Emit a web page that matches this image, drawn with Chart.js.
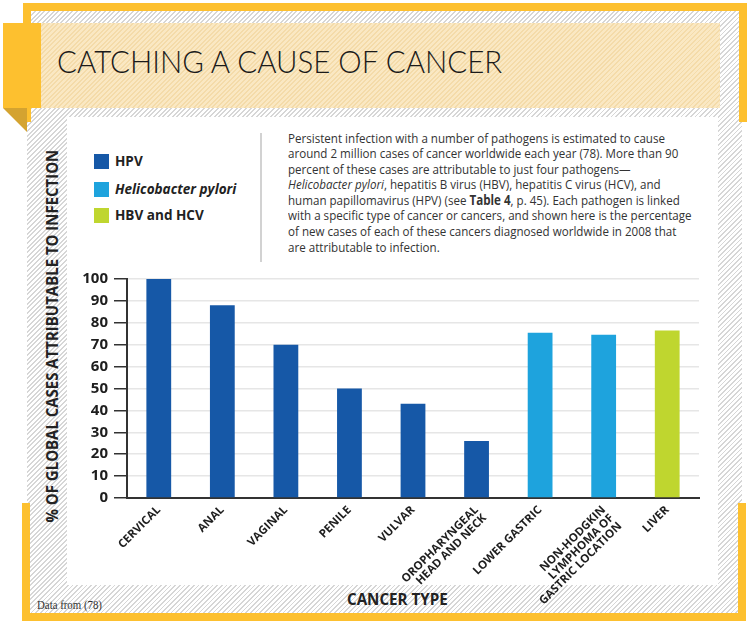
<!DOCTYPE html>
<html><head><meta charset="utf-8">
<script src="https://cdn.jsdelivr.net/npm/chart.js@4.4.1/dist/chart.umd.min.js"></script>
<style>
html,body{margin:0;padding:0;width:750px;height:626px;overflow:hidden;background:#fff;font-family:'Open Sans',sans-serif;color:#222;}
.abs{position:absolute;}
#hatch{left:27px;top:11px;width:715px;height:603px;background:repeating-linear-gradient(135deg,#fff 0 2.1px,#d6d6d6 2.1px 3.3px);}
.yel{background:#fdc02f;}
#ribbon{left:41px;top:23px;width:679px;height:85px;background:repeating-linear-gradient(135deg,#fae8c3 0 2.1px,#f4dba9 2.1px 3.3px);}
#tab{left:3px;top:23px;width:38px;height:85px;}
#fold{left:3px;top:108px;width:24px;height:24px;background:#d4a330;clip-path:polygon(0 0,100% 0,100% 100%);}
#panel{left:67px;top:117px;width:651px;height:468px;background:#fff;}
#title{left:57px;top:44.6px;font-family:'Lato',sans-serif;font-weight:300;font-size:32px;line-height:32px;white-space:nowrap;color:#1a1a1a;transform-origin:0 0;}
#para{left:288px;top:130.5px;font-size:13.5px;line-height:15.6px;color:#333;white-space:nowrap;transform-origin:0 0;}
#divider{left:260px;top:133px;width:2px;height:129px;background:#d2d2d2;}
#legend{left:94px;top:154px;}
.li{position:absolute;left:0;height:15px;white-space:nowrap;}
.sw{position:absolute;left:0;top:0;width:15px;height:15px;}
.lt{position:absolute;left:21px;top:-3px;font-weight:700;font-size:14px;line-height:20px;transform-origin:0 50%;}
#ytitle{left:-134.5px;top:340px;width:371px;height:20px;line-height:20px;text-align:center;transform:rotate(-90deg);white-space:nowrap;font-weight:700;font-size:16px;}
#ytitle span,#xtitle span{display:inline-block;}
#xtitle{left:347px;top:589px;font-weight:700;font-size:16.5px;line-height:20px;white-space:nowrap;transform-origin:0 0;}
#source{left:37px;top:598px;font-family:'Liberation Serif',serif;font-size:12px;line-height:14px;color:#333;white-space:nowrap;transform-origin:0 0;}
canvas{position:absolute;left:0;top:0;}
</style></head>
<body>
<div id="hatch" class="abs"></div>
<div class="abs yel" style="left:23px;top:3px;width:724px;height:8px"></div>
<div class="abs yel" style="left:23px;top:3px;width:8px;height:119px"></div>
<div class="abs yel" style="left:739px;top:3px;width:8px;height:119px"></div>
<div class="abs yel" style="left:22px;top:613px;width:724px;height:8px"></div>
<div class="abs yel" style="left:22px;top:503px;width:8px;height:118px"></div>
<div class="abs yel" style="left:738px;top:503px;width:8px;height:118px"></div>
<div id="ribbon" class="abs"></div>
<div id="tab" class="abs yel"></div>
<div id="fold" class="abs"></div>
<div id="title" class="abs">CATCHING A CAUSE OF CANCER</div>
<div id="panel" class="abs"></div>
<div id="divider" class="abs"></div>
<div id="legend" class="abs"></div>
<div id="para" class="abs"></div>
<div id="ytitle" class="abs"><span>% OF GLOBAL CASES ATTRIBUTABLE TO INFECTION</span></div>
<div id="xtitle" class="abs">CANCER TYPE</div>
<div id="source" class="abs">Data from (78)</div>
<canvas id="c" width="750" height="626"></canvas>
<script>
// ---- data ----
const categories = ['CERVICAL','ANAL','VAGINAL','PENILE','VULVAR','OROPHARYNGEAL\nHEAD AND NECK','LOWER GASTRIC','NON-HODGKIN\nLYMPHOMA OF\nGASTRIC LOCATION','LIVER'];
const seriesNames = ['HPV','Helicobacter pylori','HBV and HCV'];
const seriesColors = ['#1658a7','#1ea3dd','#bfd62f'];
const hpvValues = [100,88,70,50,43,26,null,null,null];
const hPyloriValues = [null,null,null,null,null,null,75.5,74.5,null];
const hbvHcvValues = [null,null,null,null,null,null,null,null,76.5];
const yTicks = [0,10,20,30,40,50,60,70,80,90,100];
const paragraphLines = [
 'Persistent infection with a number of pathogens is estimated to cause',
 'around 2 million cases of cancer worldwide each year (78). More than 90',
 'percent of these cases are attributable to just four pathogens\u2014',
 '<i>Helicobacter pylori</i>, hepatitis B virus (HBV), hepatitis C virus (HCV), and',
 'human papillomavirus (HPV) (see <b>Table 4</b>, p. 45). Each pathogen is linked',
 'with a specific type of cancer or cancers, and shown here is the percentage',
 'of new cases of each of these cancers diagnosed worldwide in 2008 that',
 'are attributable to infection.'
];

// ---- text blocks ----
const para = document.getElementById('para');
para.innerHTML = paragraphLines.map((l,i)=>'<div'+(i===0?' id="pl0" style="display:inline-block"':'')+'>'+l+'</div>').join('');
const legend = document.getElementById('legend');
seriesNames.forEach((n,i)=>{
  const d=document.createElement('div'); d.className='li'; d.style.top=[0,28,54][i]+'px';
  d.innerHTML='<div class="sw" style="background:'+seriesColors[i]+'"></div><div class="lt"'+(i===1?' style="font-style:italic"':'')+'>'+n+'</div>';
  legend.appendChild(d);
});
function fit(el, target){ const w=el.offsetWidth; el.style.transform='scaleX('+(target/w)+')'; return target/w; }
fit(document.getElementById('title'),445);
const s=document.getElementById('pl0').offsetWidth; para.style.transform='scaleX('+(377/s)+')';
const lts=document.querySelectorAll('.lt'); const k=121/lts[1].offsetWidth; lts.forEach(e=>e.style.transform='scaleX('+k+')');
fit(document.querySelector('#ytitle span'),373);
fit(document.getElementById('xtitle'),101);
fit(document.getElementById('source'),65);

// ---- chart ----
const mk=(vals,i)=>({label:seriesNames[i],data:vals,backgroundColor:seriesColors[i],borderWidth:0,grouped:false,barPercentage:0.39,categoryPercentage:1});
new Chart(document.getElementById('c'),{
  type:'bar',
  data:{labels:categories.map(c=>c.split('\n')),datasets:[mk(hpvValues,0),mk(hPyloriValues,1),mk(hbvHcvValues,2)]},
  options:{
    responsive:false,animation:false,
    layout:{padding:{left:60,right:51,top:279,bottom:8}},
    plugins:{legend:{display:false},tooltip:{enabled:false}},
    scales:{
      x:{
        grid:{display:false,drawTicks:false},
        border:{display:true,color:'#333',width:2},
        ticks:{autoSkip:false,maxRotation:45,minRotation:45,padding:6,color:'#1e1e1e',font:{family:'Open Sans',weight:'bold',size:11.5,lineHeight:1.0}},
        afterFit:s=>{s.height=120;}
      },
      y:{
        min:0,max:100,
        afterBuildTicks:sc=>{sc.ticks=yTicks.map(v=>({value:v}));},
        grid:{color:'#e6e6e6',lineWidth:1.5,tickLength:13,tickColor:'#333',tickWidth:1.5},
        border:{display:true,color:'#333',width:2},
        ticks:{autoSkip:false,padding:6,color:'#1e1e1e',font:{family:'Open Sans',weight:'bold',size:15}},
        afterFit:s=>{s.width=67;}
      }
    }
  }
});
</script>
</body></html>
